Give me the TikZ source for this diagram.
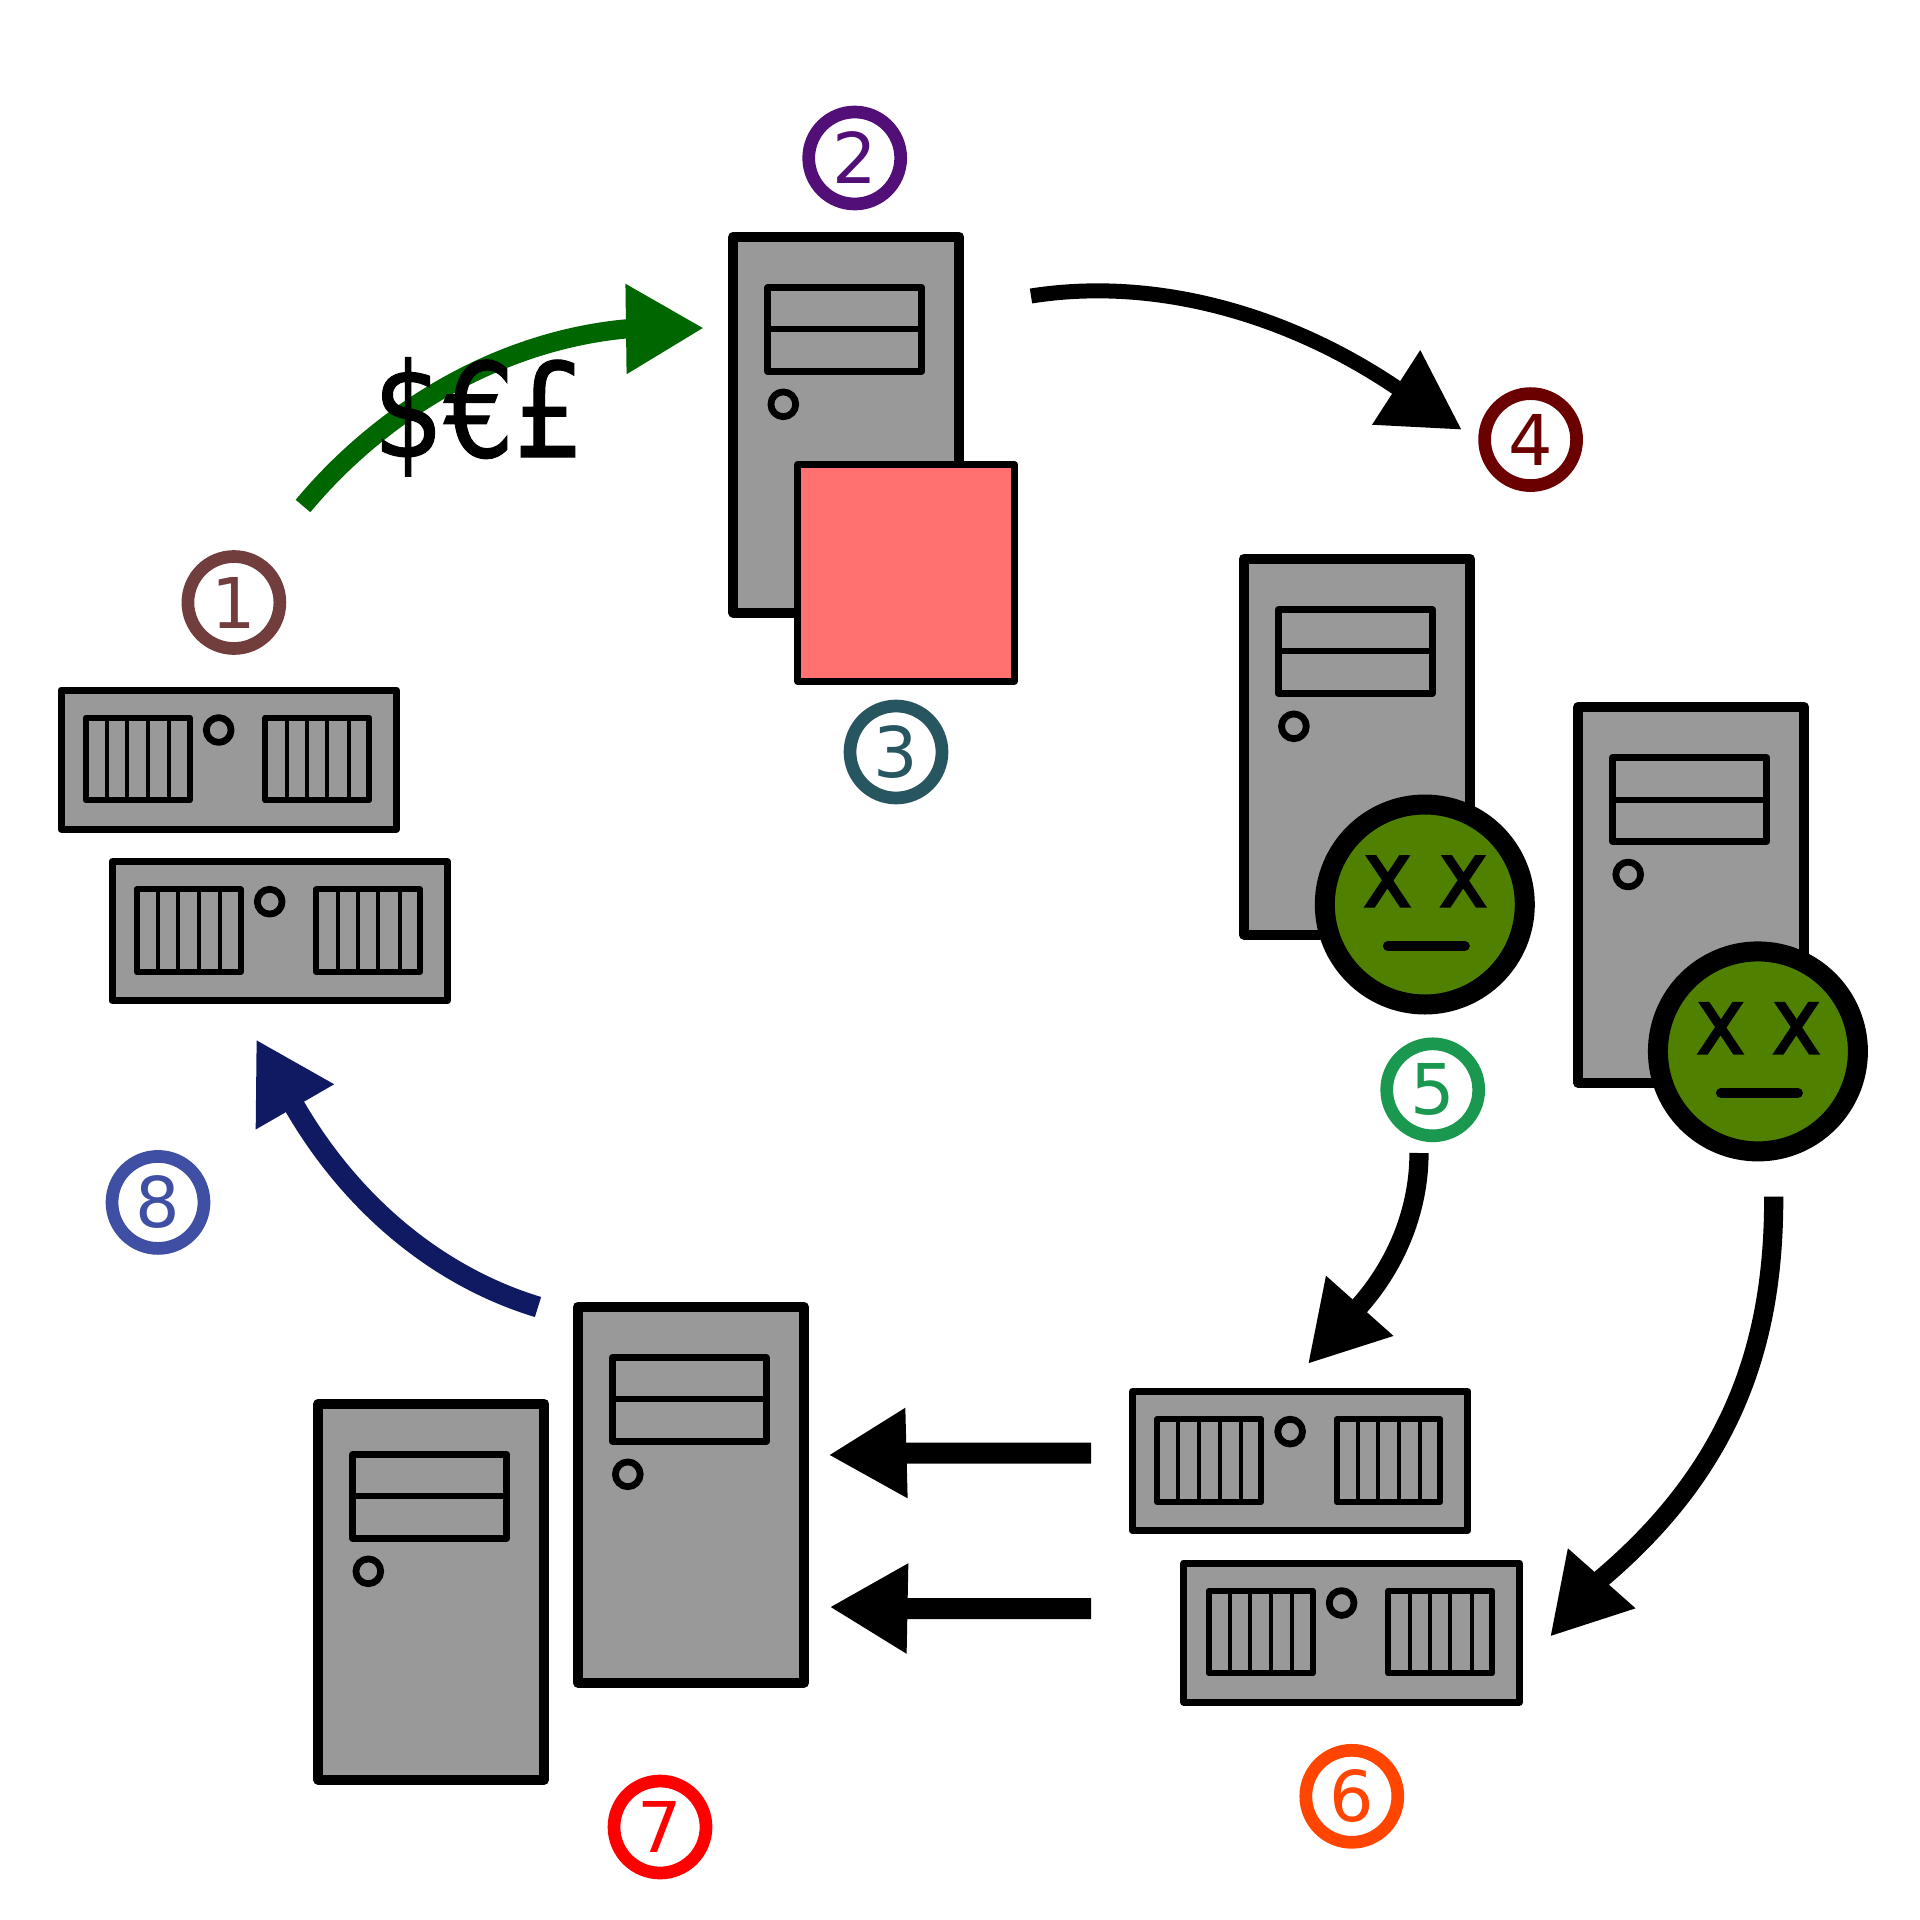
\documentclass[tikz,border=0pt]{standalone}
\usepackage{fontspec}
\setmainfont{DejaVu Sans}
\newfontfamily\condfont[FakeStretch=0.94,FakeBold=0.8]{DejaVu Sans Condensed}
\newfontfamily\eyefont[FakeBold=2]{DejaVu Sans Condensed}
\usetikzlibrary{arrows.meta}
\definecolor{boxgray}{HTML}{999999}
\definecolor{deadgreen}{HTML}{508000}
\definecolor{payred}{HTML}{FF7070}
\definecolor{paygreen}{HTML}{006600}
\definecolor{backnavy}{HTML}{0F1A63}
\definecolor{stepone}{HTML}{723D3D}
\definecolor{steptwo}{HTML}{520F78}
\definecolor{stepthree}{HTML}{285660}
\definecolor{stepfour}{HTML}{6B0000}
\definecolor{stepfive}{HTML}{1A9850}
\definecolor{stepsix}{HTML}{FF4500}
\definecolor{stepseven}{HTML}{FF0000}
\definecolor{stepeight}{HTML}{3F4FA3}

\tikzset{
    outline/.style={draw=black,fill=boxgray,line join=round},
    tower/.pic={
        \draw[outline,line width=5pt] (0,0) rectangle (226,376);
        \draw[outline,line width=3.5pt] (34.5,50.8) rectangle (188.5,134.5);
        \draw[line width=3pt] (34.5,92.6) -- (188.5,92.6);
        \draw[outline,line width=3.4pt] (50,167.6) circle[radius=6.2pt];
    },
    rack/.pic={
        \draw[outline,line width=3.5pt] (0,0) rectangle (335.5,139);
        \draw[outline,line width=3pt] (24.7,27.7) rectangle (128.7,110.3);
        \draw[outline,line width=3pt] (204.3,27.7) rectangle (308,110.3);
        \foreach \barx in {46,66.3,87.3,108.3,225.7,245.7,266.3,288}
            \draw[line width=2pt] (\barx,27.7) -- (\barx,110.3);
        \draw[outline,line width=3.4pt] (157.7,40) circle[radius=6.2pt];
    },
    deadface/.pic={
        \node[circle,draw=black,fill=deadgreen,line width=10pt,minimum size=100pt,inner sep=0pt] (-disc) at (0,0) {};
        \node[anchor=base,inner sep=0pt,font=\eyefont\fontsize{46.35}{46.35}\selectfont] (-eyes) at (0.7,2.2) {x x};
        \draw[line width=5pt,line cap=round] (-37,41.5) -- (40,41.5);
    },
    step label/.style={circle,draw=#1,text=#1,fill=white,line width=6.35pt,minimum size=46pt,inner sep=0pt,font=\fontsize{35}{35}\selectfont},
    flow/.style={line width=#1,-{Triangle[length=39pt,width=42.3pt]}},
    flow/.default=7.5pt
}

\begin{document}
\begin{tikzpicture}[x=0.5pt,y=-0.5pt]
    \useasboundingbox (0,0) rectangle (1920,1920);

    % arrow ends and the necks where the heads begin
    \coordinate (paystart) at (303,506);
    \coordinate (payneck) at (625,329);
    \coordinate (payend) at (704,328);
    \coordinate (spreadstart) at (1031,296);
    \coordinate (spreadneck) at (1395.5,387);
    \coordinate (spreadend) at (1461.7,429.7);
    \coordinate (failstart) at (1419,1153);
    \coordinate (failneck) at (1360,1305.5);
    \coordinate (failend) at (1307.8,1364);
    \coordinate (fallstart) at (1773.7,1196.7);
    \coordinate (fallneck) at (1602,1578);
    \coordinate (fallend) at (1550,1636.7);
    \coordinate (moveastart) at (1091,1453);
    \coordinate (moveaneck) at (907,1453);
    \coordinate (moveaend) at (828.5,1455);
    \coordinate (movebstart) at (1091,1608.5);
    \coordinate (movebneck) at (908,1608.5);
    \coordinate (movebend) at (829.5,1607);
    \coordinate (backstart) at (538,1307);
    \coordinate (backneck) at (295,1107);
    \coordinate (backend) at (256,1039.3);

    \draw[flow=9.6pt,paygreen] (paystart) .. controls (383,410) and (500,341) .. (payneck) -- (payend);
    \draw[flow] (spreadstart) .. controls (1158,276) and (1290,316) .. (spreadneck) -- (spreadend);
    \draw[flow=9.6pt] (failstart) .. controls (1419,1209) and (1397,1263.5) .. (failneck) -- (failend);
    \draw[flow=9.6pt] (fallstart) .. controls (1774,1340) and (1735,1465) .. (fallneck) -- (fallend);
    \draw[flow=10.5pt] (moveastart) -- (moveaneck) -- (moveaend);
    \draw[flow=10.5pt] (movebstart) -- (movebneck) -- (movebend);
    \draw[flow=10.5pt,backnavy] (backstart) .. controls (434,1275.4) and (349.5,1200.7) .. (backneck) -- (backend);

    \pic (racka) at (61,690) {rack};
    \pic (rackb) at (112,861.7) {rack};
    \pic (rackc) at (1132.4,1391.6) {rack};
    \pic (rackd) at (1183.9,1563) {rack};

    \pic (towera) at (733.3,236.7) {tower};
    \pic (towerb) at (1243.9,558.7) {tower};
    \pic (towerc) at (1578.2,706.9) {tower};
    \pic (towerd) at (318.3,1403.7) {tower};
    \pic (towere) at (577.8,1306.7) {tower};

    \node[draw=black,fill=payred,line width=3.5pt,line join=round,minimum size=108.2pt,inner sep=0pt] (ransom) at (906,573) {};
    \pic (facea) at (1424.8,904.5) {deadface};
    \pic (faceb) at (1757.9,1051.4) {deadface};

    \node[anchor=base,inner sep=0pt,font=\condfont\fontsize{65.5}{65.5}\selectfont] (money) at (479,457) {\$€£};

    \node[step label=stepone] (one) at (233.9,602.5) {1};
    \node[step label=steptwo] (two) at (854.7,158) {2};
    \node[step label=stepthree] (three) at (896,752) {3};
    \node[step label=stepfour] (four) at (1530.6,439.6) {4};
    \node[step label=stepfive] (five) at (1432.7,1089.8) {5};
    \node[step label=stepsix] (six) at (1351.8,1796.3) {6};
    \node[step label=stepseven] (seven) at (660,1827) {7};
    \node[step label=stepeight] (eight) at (158,1202.4) {8};
\end{tikzpicture}
\end{document}
